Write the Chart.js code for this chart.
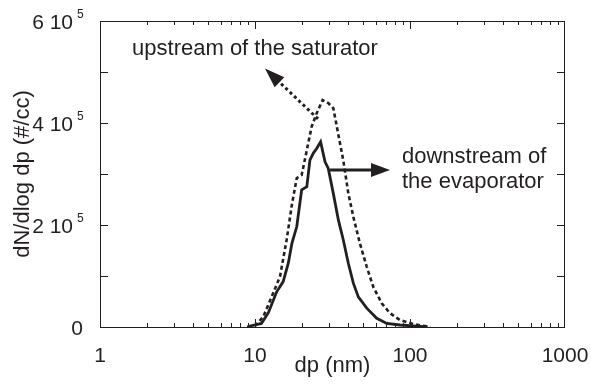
<!DOCTYPE html>
<html>
<head>
<meta charset="utf-8">
<script src="https://cdn.jsdelivr.net/npm/chart.js@4"></script>
<style>
  body { margin: 0; background: #fff; }
  #wrap { width: 591px; height: 391px; }
</style>
</head>
<body>
<div id="wrap"><canvas id="c"></canvas></div>
<script>
// upstream of the saturator (dotted)
const dpUp = [9.0, 10.0, 11.3, 12.8, 14.5, 16.0, 17.3, 18.6, 20.0, 21.6, 23.2, 25.0, 27.3, 29.7, 32.0, 34.5, 37.1, 40.0, 43.1, 47.5, 52.6, 57.9, 65.7, 74.3, 86.1, 105, 135];
const nUp = [0, 2000, 20000, 59000, 99000, 171000, 240000, 292000, 298000, 347000, 393000, 419000, 445000, 439000, 429000, 377000, 327000, 262000, 216000, 164000, 118000, 79000, 46500, 27000, 13700, 5900, 0];

// downstream of the evaporator (solid)
const dpDown = [8.9, 9.3, 11.0, 12.2, 13.8, 15.2, 16.4, 17.3, 18.6, 20.0, 21.6, 22.6, 23.8, 25.0, 26.5, 28.3, 29.7, 32.0, 34.5, 37.1, 40.0, 43.1, 46.4, 52.6, 61.0, 70.8, 86.1, 104.5, 130];
const nDown = [0, 2000, 7000, 28000, 69000, 89000, 125000, 164000, 197000, 269000, 275000, 327000, 341000, 350000, 363000, 324000, 311000, 262000, 210000, 171000, 125000, 86000, 59000, 37000, 17000, 7000, 3900, 2000, 0];

const xTicks = [1, 10, 100, 1000];
const yTicks = [0, 200000, 400000, 600000];

const ink = '#231f20';
const font = "'Liberation Sans', Arial, sans-serif";

const toPoints = (xs, ys) => xs.map((x, i) => ({ x: x, y: ys[i] }));

// annotation anchors in data units
const notes = {
  up: { text: ['upstream of the saturator'], at: [1.61, 533000], from: [25.5, 408000], to: [11.6, 507000], dotted: true },
  down: { text: ['downstream of', 'the evaporator'], at: [88.8, 321600], from: [30.5, 308000], to: [74.3, 308000], dotted: false }
};

function drawArrow(ctx, x1, y1, x2, y2, dotted) {
  const ang = Math.atan2(y2 - y1, x2 - x1);
  const headLen = dotted ? 20 : 19;
  const headW = 7;
  const bx = x2 - headLen * Math.cos(ang);
  const by = y2 - headLen * Math.sin(ang);
  ctx.save();
  ctx.strokeStyle = ink;
  ctx.fillStyle = ink;
  ctx.lineWidth = 3;
  ctx.setLineDash(dotted ? [3, 3] : []);
  ctx.beginPath();
  ctx.moveTo(x1, y1);
  ctx.lineTo(bx, by);
  ctx.stroke();
  ctx.setLineDash([]);
  ctx.beginPath();
  ctx.moveTo(x2, y2);
  ctx.lineTo(bx + headW * Math.sin(ang), by - headW * Math.cos(ang));
  ctx.lineTo(bx - headW * Math.sin(ang), by + headW * Math.cos(ang));
  ctx.closePath();
  ctx.fill();
  ctx.restore();
}

const framePlugin = {
  id: 'frame',
  afterDraw(chart) {
    const { ctx, chartArea: a, scales: { x, y } } = chart;
    ctx.save();
    ctx.strokeStyle = ink;
    ctx.lineWidth = 1;
    ctx.strokeRect(a.left + 0.5, a.top + 0.5, a.right - a.left - 1, a.bottom - a.top);

    // inward ticks, log minor ticks on x
    ctx.beginPath();
    for (let d = 0; d < 3; d++) {
      for (let m = 1; m <= 9; m++) {
        const px = Math.round(x.getPixelForValue(m * Math.pow(10, d))) + 0.5;
        const len = m === 1 ? 8 : 4;
        ctx.moveTo(px, a.bottom); ctx.lineTo(px, a.bottom - len);
        ctx.moveTo(px, a.top); ctx.lineTo(px, a.top + len);
      }
    }
    for (let v = 100000; v < 600000; v += 100000) {
      const py = Math.round(y.getPixelForValue(v)) + 0.5;
      ctx.moveTo(a.left, py); ctx.lineTo(a.left + 8, py);
      ctx.moveTo(a.right, py); ctx.lineTo(a.right - 8, py);
    }
    ctx.stroke();

    ctx.fillStyle = ink;
    ctx.textBaseline = 'alphabetic';

    // x tick labels
    ctx.font = '21px ' + font;
    ctx.textAlign = 'center';
    xTicks.forEach(v => ctx.fillText(String(v), x.getPixelForValue(v), a.bottom + 35));

    // y tick labels with power-of-ten superscript
    yTicks.forEach(v => {
      const py = y.getPixelForValue(v);
      if (v === 0) {
        ctx.font = '21px ' + font;
        ctx.textAlign = 'right';
        ctx.fillText('0', 83, py + 8);
      } else {
        ctx.font = '21px ' + font;
        ctx.textAlign = 'right';
        ctx.fillText((v / 1e5) + ' 10', 73, py + 8);
        ctx.font = '12px ' + font;
        ctx.textAlign = 'left';
        ctx.fillText('5', 77, py - 3);
      }
    });

    // annotations
    Object.values(notes).forEach(n => {
      drawArrow(ctx, x.getPixelForValue(n.from[0]), y.getPixelForValue(n.from[1]),
        x.getPixelForValue(n.to[0]), y.getPixelForValue(n.to[1]), n.dotted);
      ctx.font = '22px ' + font;
      ctx.textAlign = 'left';
      ctx.textBaseline = 'alphabetic';
      const tx = x.getPixelForValue(n.at[0]);
      const ty = y.getPixelForValue(n.at[1]);
      n.text.forEach((t, i) => ctx.fillText(t, tx, ty + i * 25));
    });
    ctx.restore();
  }
};

new Chart(document.getElementById('c'), {
  type: 'line',
  data: {
    datasets: [
      {
        label: 'upstream of the saturator',
        data: toPoints(dpUp, nUp),
        borderColor: ink,
        borderWidth: 2.6,
        borderDash: [4, 3],
        pointRadius: 0,
        tension: 0,
        fill: false
      },
      {
        label: 'downstream of the evaporator',
        data: toPoints(dpDown, nDown),
        borderColor: ink,
        borderWidth: 2.8,
        pointRadius: 0,
        tension: 0,
        fill: false
      }
    ]
  },
  options: {
    responsive: true,
    maintainAspectRatio: false,
    animation: false,
    layout: { padding: { left: 0, right: 26, top: 21, bottom: 0 } },
    plugins: { legend: { display: false }, tooltip: { enabled: false } },
    scales: {
      x: {
        type: 'logarithmic',
        min: 1,
        max: 1000,
        grid: { display: false, drawTicks: false },
        border: { display: false },
        ticks: { display: false },
        title: {
          display: true,
          text: 'dp (nm)',
          color: ink,
          font: { family: font, size: 22 },
          padding: { top: 0, bottom: 12 }
        },
        afterFit: s => { s.height = 64; }
      },
      y: {
        min: 0,
        max: 600000,
        grid: { display: false, drawTicks: false },
        border: { display: false },
        ticks: { display: false, stepSize: 100000 },
        title: {
          display: true,
          text: 'dN/dlog dp (#/cc)',
          color: ink,
          font: { family: font, size: 22 },
          padding: { top: 10, bottom: 0 }
        },
        afterFit: s => { s.width = 100; }
      }
    }
  },
  plugins: [framePlugin]
});
</script>
</body>
</html>
